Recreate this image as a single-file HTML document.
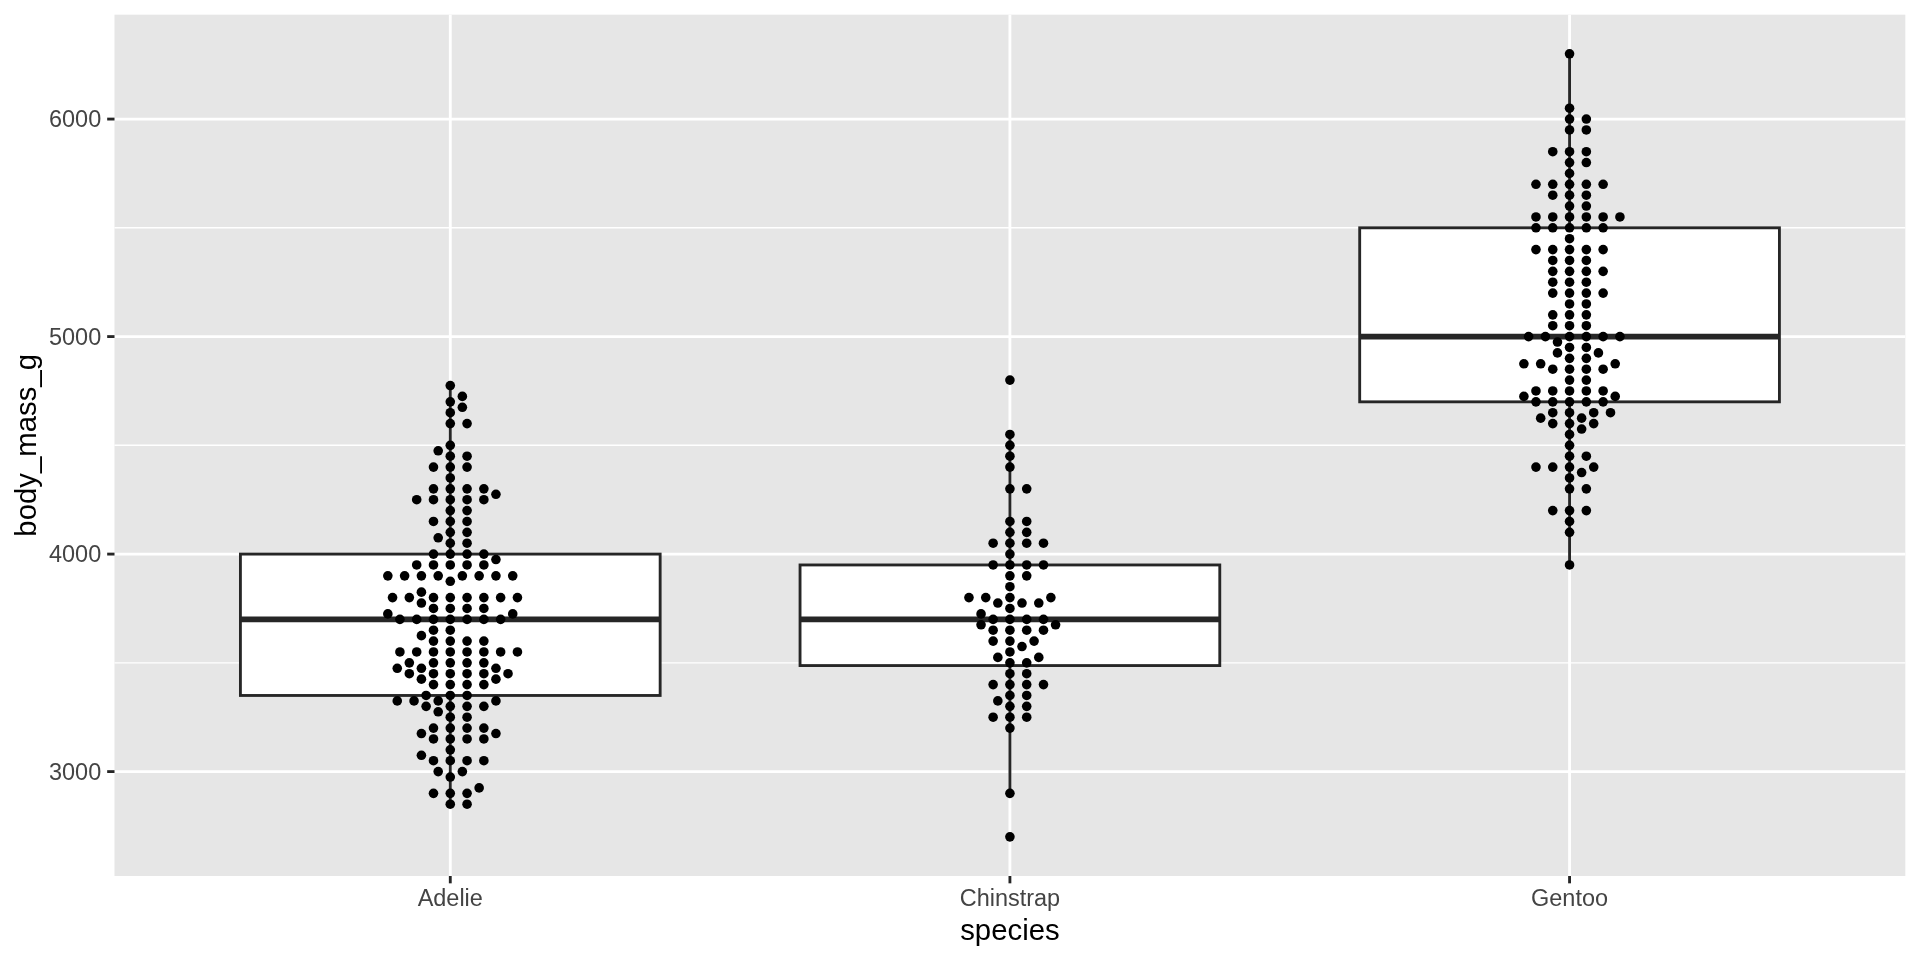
<!DOCTYPE html>
<html lang="en"><head><meta charset="utf-8"><title>body_mass_g by species</title>
<style>
html,body{margin:0;padding:0;background:#fff;overflow:hidden}
svg{display:block;will-change:transform;transform:translateZ(0)}
text{font-family:"Liberation Sans",sans-serif}
.at{font-size:23.47px;fill:#444444}
.ti{font-size:29.33px;fill:#000}
</style></head><body>
<svg width="1920" height="960" viewBox="0 0 1920 960">
<rect width="1920" height="960" fill="#fff"/>
<rect x="114.50" y="14.67" width="1790.83" height="861.33" fill="#E6E6E6"/>
<line x1="114.50" x2="1905.33" y1="662.84" y2="662.84" stroke="#fff" stroke-width="1.42"/>
<line x1="114.50" x2="1905.33" y1="445.33" y2="445.33" stroke="#fff" stroke-width="1.42"/>
<line x1="114.50" x2="1905.33" y1="227.82" y2="227.82" stroke="#fff" stroke-width="1.42"/>
<line x1="114.50" x2="1905.33" y1="771.60" y2="771.60" stroke="#fff" stroke-width="2.85"/>
<line x1="114.50" x2="1905.33" y1="554.09" y2="554.09" stroke="#fff" stroke-width="2.85"/>
<line x1="114.50" x2="1905.33" y1="336.58" y2="336.58" stroke="#fff" stroke-width="2.85"/>
<line x1="114.50" x2="1905.33" y1="119.07" y2="119.07" stroke="#fff" stroke-width="2.85"/>
<line x1="450.28" x2="450.28" y1="14.67" y2="876.00" stroke="#fff" stroke-width="2.85"/>
<line x1="1009.92" x2="1009.92" y1="14.67" y2="876.00" stroke="#fff" stroke-width="2.85"/>
<line x1="1569.55" x2="1569.55" y1="14.67" y2="876.00" stroke="#fff" stroke-width="2.85"/>
<g stroke="#262626" stroke-width="2.85" fill="none">
<line x1="450.28" x2="450.28" y1="385.52" y2="554.09"/>
<line x1="450.28" x2="450.28" y1="695.47" y2="804.22"/>
<rect x="240.42" y="554.09" width="419.73" height="141.38" fill="#fff"/>
<line x1="240.42" x2="660.14" y1="619.34" y2="619.34" stroke-width="5.69" stroke-linecap="butt"/>
</g>
<g stroke="#262626" stroke-width="2.85" fill="none">
<line x1="1009.92" x2="1009.92" y1="434.46" y2="564.96"/>
<line x1="1009.92" x2="1009.92" y1="665.56" y2="793.35"/>
<rect x="800.05" y="564.96" width="419.73" height="100.60" fill="#fff"/>
<line x1="800.05" x2="1219.78" y1="619.34" y2="619.34" stroke-width="5.69" stroke-linecap="butt"/>
</g>
<g stroke="#262626" stroke-width="2.85" fill="none">
<line x1="1569.55" x2="1569.55" y1="53.82" y2="227.82"/>
<line x1="1569.55" x2="1569.55" y1="401.83" y2="564.96"/>
<rect x="1359.69" y="227.82" width="419.73" height="174.01" fill="#fff"/>
<line x1="1359.69" x2="1779.42" y1="336.58" y2="336.58" stroke-width="5.69" stroke-linecap="butt"/>
</g>
<g>
<circle cx="450.28" cy="804.22" r="4.8"/>
<circle cx="467.07" cy="804.22" r="4.8"/>
<circle cx="450.28" cy="793.35" r="4.8"/>
<circle cx="467.07" cy="793.35" r="4.8"/>
<circle cx="433.49" cy="793.35" r="4.8"/>
<circle cx="479.15" cy="787.91" r="4.8"/>
<circle cx="450.28" cy="777.03" r="4.8"/>
<circle cx="462.36" cy="771.60" r="4.8"/>
<circle cx="438.20" cy="771.60" r="4.8"/>
<circle cx="450.28" cy="760.72" r="4.8"/>
<circle cx="467.07" cy="760.72" r="4.8"/>
<circle cx="433.49" cy="760.72" r="4.8"/>
<circle cx="483.86" cy="760.72" r="4.8"/>
<circle cx="421.41" cy="755.28" r="4.8"/>
<circle cx="450.28" cy="749.85" r="4.8"/>
<circle cx="450.28" cy="738.97" r="4.8"/>
<circle cx="467.07" cy="738.97" r="4.8"/>
<circle cx="433.49" cy="738.97" r="4.8"/>
<circle cx="483.86" cy="738.97" r="4.8"/>
<circle cx="421.41" cy="733.53" r="4.8"/>
<circle cx="495.94" cy="733.53" r="4.8"/>
<circle cx="450.28" cy="728.09" r="4.8"/>
<circle cx="433.49" cy="728.09" r="4.8"/>
<circle cx="467.07" cy="728.09" r="4.8"/>
<circle cx="483.86" cy="728.09" r="4.8"/>
<circle cx="450.28" cy="717.22" r="4.8"/>
<circle cx="467.07" cy="717.22" r="4.8"/>
<circle cx="438.20" cy="711.78" r="4.8"/>
<circle cx="450.28" cy="706.34" r="4.8"/>
<circle cx="467.07" cy="706.34" r="4.8"/>
<circle cx="426.12" cy="706.34" r="4.8"/>
<circle cx="483.86" cy="706.34" r="4.8"/>
<circle cx="438.20" cy="700.91" r="4.8"/>
<circle cx="414.04" cy="700.91" r="4.8"/>
<circle cx="495.94" cy="700.91" r="4.8"/>
<circle cx="397.25" cy="700.91" r="4.8"/>
<circle cx="450.28" cy="695.47" r="4.8"/>
<circle cx="467.07" cy="695.47" r="4.8"/>
<circle cx="426.12" cy="695.47" r="4.8"/>
<circle cx="450.28" cy="684.59" r="4.8"/>
<circle cx="467.07" cy="684.59" r="4.8"/>
<circle cx="433.49" cy="684.59" r="4.8"/>
<circle cx="483.86" cy="684.59" r="4.8"/>
<circle cx="421.41" cy="679.15" r="4.8"/>
<circle cx="495.94" cy="679.15" r="4.8"/>
<circle cx="450.28" cy="673.72" r="4.8"/>
<circle cx="433.49" cy="673.72" r="4.8"/>
<circle cx="467.07" cy="673.72" r="4.8"/>
<circle cx="483.86" cy="673.72" r="4.8"/>
<circle cx="409.33" cy="673.72" r="4.8"/>
<circle cx="508.02" cy="673.72" r="4.8"/>
<circle cx="421.41" cy="668.28" r="4.8"/>
<circle cx="495.94" cy="668.28" r="4.8"/>
<circle cx="397.25" cy="668.28" r="4.8"/>
<circle cx="450.28" cy="662.84" r="4.8"/>
<circle cx="467.07" cy="662.84" r="4.8"/>
<circle cx="433.49" cy="662.84" r="4.8"/>
<circle cx="483.86" cy="662.84" r="4.8"/>
<circle cx="409.33" cy="662.84" r="4.8"/>
<circle cx="450.28" cy="651.97" r="4.8"/>
<circle cx="467.07" cy="651.97" r="4.8"/>
<circle cx="433.49" cy="651.97" r="4.8"/>
<circle cx="483.86" cy="651.97" r="4.8"/>
<circle cx="416.70" cy="651.97" r="4.8"/>
<circle cx="500.65" cy="651.97" r="4.8"/>
<circle cx="399.91" cy="651.97" r="4.8"/>
<circle cx="517.44" cy="651.97" r="4.8"/>
<circle cx="450.28" cy="641.09" r="4.8"/>
<circle cx="467.07" cy="641.09" r="4.8"/>
<circle cx="433.49" cy="641.09" r="4.8"/>
<circle cx="483.86" cy="641.09" r="4.8"/>
<circle cx="421.41" cy="635.65" r="4.8"/>
<circle cx="450.28" cy="630.22" r="4.8"/>
<circle cx="433.49" cy="630.22" r="4.8"/>
<circle cx="450.28" cy="619.34" r="4.8"/>
<circle cx="467.07" cy="619.34" r="4.8"/>
<circle cx="433.49" cy="619.34" r="4.8"/>
<circle cx="483.86" cy="619.34" r="4.8"/>
<circle cx="416.70" cy="619.34" r="4.8"/>
<circle cx="500.65" cy="619.34" r="4.8"/>
<circle cx="399.91" cy="619.34" r="4.8"/>
<circle cx="512.73" cy="613.90" r="4.8"/>
<circle cx="387.83" cy="613.90" r="4.8"/>
<circle cx="450.28" cy="608.46" r="4.8"/>
<circle cx="467.07" cy="608.46" r="4.8"/>
<circle cx="433.49" cy="608.46" r="4.8"/>
<circle cx="483.86" cy="608.46" r="4.8"/>
<circle cx="421.41" cy="603.03" r="4.8"/>
<circle cx="450.28" cy="597.59" r="4.8"/>
<circle cx="433.49" cy="597.59" r="4.8"/>
<circle cx="467.07" cy="597.59" r="4.8"/>
<circle cx="483.86" cy="597.59" r="4.8"/>
<circle cx="409.33" cy="597.59" r="4.8"/>
<circle cx="500.65" cy="597.59" r="4.8"/>
<circle cx="392.54" cy="597.59" r="4.8"/>
<circle cx="517.44" cy="597.59" r="4.8"/>
<circle cx="421.41" cy="592.15" r="4.8"/>
<circle cx="450.28" cy="581.28" r="4.8"/>
<circle cx="462.36" cy="575.84" r="4.8"/>
<circle cx="438.20" cy="575.84" r="4.8"/>
<circle cx="479.15" cy="575.84" r="4.8"/>
<circle cx="421.41" cy="575.84" r="4.8"/>
<circle cx="495.94" cy="575.84" r="4.8"/>
<circle cx="404.62" cy="575.84" r="4.8"/>
<circle cx="512.73" cy="575.84" r="4.8"/>
<circle cx="387.83" cy="575.84" r="4.8"/>
<circle cx="450.28" cy="564.96" r="4.8"/>
<circle cx="467.07" cy="564.96" r="4.8"/>
<circle cx="433.49" cy="564.96" r="4.8"/>
<circle cx="483.86" cy="564.96" r="4.8"/>
<circle cx="416.70" cy="564.96" r="4.8"/>
<circle cx="495.94" cy="559.53" r="4.8"/>
<circle cx="450.28" cy="554.09" r="4.8"/>
<circle cx="467.07" cy="554.09" r="4.8"/>
<circle cx="433.49" cy="554.09" r="4.8"/>
<circle cx="483.86" cy="554.09" r="4.8"/>
<circle cx="450.28" cy="543.21" r="4.8"/>
<circle cx="467.07" cy="543.21" r="4.8"/>
<circle cx="438.20" cy="537.77" r="4.8"/>
<circle cx="450.28" cy="532.34" r="4.8"/>
<circle cx="467.07" cy="532.34" r="4.8"/>
<circle cx="450.28" cy="521.46" r="4.8"/>
<circle cx="467.07" cy="521.46" r="4.8"/>
<circle cx="433.49" cy="521.46" r="4.8"/>
<circle cx="450.28" cy="510.59" r="4.8"/>
<circle cx="467.07" cy="510.59" r="4.8"/>
<circle cx="450.28" cy="499.71" r="4.8"/>
<circle cx="467.07" cy="499.71" r="4.8"/>
<circle cx="433.49" cy="499.71" r="4.8"/>
<circle cx="483.86" cy="499.71" r="4.8"/>
<circle cx="416.70" cy="499.71" r="4.8"/>
<circle cx="495.94" cy="494.27" r="4.8"/>
<circle cx="450.28" cy="488.84" r="4.8"/>
<circle cx="467.07" cy="488.84" r="4.8"/>
<circle cx="433.49" cy="488.84" r="4.8"/>
<circle cx="483.86" cy="488.84" r="4.8"/>
<circle cx="450.28" cy="477.96" r="4.8"/>
<circle cx="450.28" cy="467.08" r="4.8"/>
<circle cx="467.07" cy="467.08" r="4.8"/>
<circle cx="433.49" cy="467.08" r="4.8"/>
<circle cx="450.28" cy="456.21" r="4.8"/>
<circle cx="467.07" cy="456.21" r="4.8"/>
<circle cx="438.20" cy="450.77" r="4.8"/>
<circle cx="450.28" cy="445.33" r="4.8"/>
<circle cx="450.28" cy="423.58" r="4.8"/>
<circle cx="467.07" cy="423.58" r="4.8"/>
<circle cx="450.28" cy="412.71" r="4.8"/>
<circle cx="462.36" cy="407.27" r="4.8"/>
<circle cx="450.28" cy="401.83" r="4.8"/>
<circle cx="462.36" cy="396.39" r="4.8"/>
<circle cx="450.28" cy="385.52" r="4.8"/>
</g>
<g>
<circle cx="1009.92" cy="836.85" r="4.8"/>
<circle cx="1009.92" cy="793.35" r="4.8"/>
<circle cx="1009.92" cy="728.09" r="4.8"/>
<circle cx="1009.92" cy="717.22" r="4.8"/>
<circle cx="1026.71" cy="717.22" r="4.8"/>
<circle cx="993.13" cy="717.22" r="4.8"/>
<circle cx="1009.92" cy="706.34" r="4.8"/>
<circle cx="1026.71" cy="706.34" r="4.8"/>
<circle cx="997.84" cy="700.91" r="4.8"/>
<circle cx="1009.92" cy="695.47" r="4.8"/>
<circle cx="1026.71" cy="695.47" r="4.8"/>
<circle cx="1009.92" cy="684.59" r="4.8"/>
<circle cx="1026.71" cy="684.59" r="4.8"/>
<circle cx="993.13" cy="684.59" r="4.8"/>
<circle cx="1043.49" cy="684.59" r="4.8"/>
<circle cx="1009.92" cy="673.72" r="4.8"/>
<circle cx="1026.71" cy="673.72" r="4.8"/>
<circle cx="1009.92" cy="662.84" r="4.8"/>
<circle cx="1026.71" cy="662.84" r="4.8"/>
<circle cx="997.84" cy="657.40" r="4.8"/>
<circle cx="1038.79" cy="657.40" r="4.8"/>
<circle cx="1009.92" cy="651.97" r="4.8"/>
<circle cx="1022.00" cy="646.53" r="4.8"/>
<circle cx="1009.92" cy="641.09" r="4.8"/>
<circle cx="993.13" cy="641.09" r="4.8"/>
<circle cx="1034.08" cy="641.09" r="4.8"/>
<circle cx="1009.92" cy="630.22" r="4.8"/>
<circle cx="1026.71" cy="630.22" r="4.8"/>
<circle cx="993.13" cy="630.22" r="4.8"/>
<circle cx="1043.49" cy="630.22" r="4.8"/>
<circle cx="981.05" cy="624.78" r="4.8"/>
<circle cx="1055.58" cy="624.78" r="4.8"/>
<circle cx="1009.92" cy="619.34" r="4.8"/>
<circle cx="993.13" cy="619.34" r="4.8"/>
<circle cx="1026.71" cy="619.34" r="4.8"/>
<circle cx="1043.49" cy="619.34" r="4.8"/>
<circle cx="981.05" cy="613.90" r="4.8"/>
<circle cx="1009.92" cy="608.46" r="4.8"/>
<circle cx="1022.00" cy="603.03" r="4.8"/>
<circle cx="997.84" cy="603.03" r="4.8"/>
<circle cx="1038.79" cy="603.03" r="4.8"/>
<circle cx="1009.92" cy="597.59" r="4.8"/>
<circle cx="985.76" cy="597.59" r="4.8"/>
<circle cx="1050.87" cy="597.59" r="4.8"/>
<circle cx="968.97" cy="597.59" r="4.8"/>
<circle cx="1009.92" cy="586.71" r="4.8"/>
<circle cx="1009.92" cy="575.84" r="4.8"/>
<circle cx="1026.71" cy="575.84" r="4.8"/>
<circle cx="1009.92" cy="564.96" r="4.8"/>
<circle cx="1026.71" cy="564.96" r="4.8"/>
<circle cx="993.13" cy="564.96" r="4.8"/>
<circle cx="1043.49" cy="564.96" r="4.8"/>
<circle cx="1009.92" cy="554.09" r="4.8"/>
<circle cx="1009.92" cy="543.21" r="4.8"/>
<circle cx="1026.71" cy="543.21" r="4.8"/>
<circle cx="993.13" cy="543.21" r="4.8"/>
<circle cx="1043.49" cy="543.21" r="4.8"/>
<circle cx="1009.92" cy="532.34" r="4.8"/>
<circle cx="1026.71" cy="532.34" r="4.8"/>
<circle cx="1009.92" cy="521.46" r="4.8"/>
<circle cx="1026.71" cy="521.46" r="4.8"/>
<circle cx="1009.92" cy="488.84" r="4.8"/>
<circle cx="1026.71" cy="488.84" r="4.8"/>
<circle cx="1009.92" cy="467.08" r="4.8"/>
<circle cx="1009.92" cy="456.21" r="4.8"/>
<circle cx="1009.92" cy="445.33" r="4.8"/>
<circle cx="1009.92" cy="434.46" r="4.8"/>
<circle cx="1009.92" cy="380.08" r="4.8"/>
</g>
<g>
<circle cx="1569.55" cy="564.96" r="4.8"/>
<circle cx="1569.55" cy="532.34" r="4.8"/>
<circle cx="1569.55" cy="521.46" r="4.8"/>
<circle cx="1569.55" cy="510.59" r="4.8"/>
<circle cx="1586.34" cy="510.59" r="4.8"/>
<circle cx="1552.76" cy="510.59" r="4.8"/>
<circle cx="1569.55" cy="488.84" r="4.8"/>
<circle cx="1586.34" cy="488.84" r="4.8"/>
<circle cx="1569.55" cy="477.96" r="4.8"/>
<circle cx="1581.63" cy="472.52" r="4.8"/>
<circle cx="1569.55" cy="467.08" r="4.8"/>
<circle cx="1552.76" cy="467.08" r="4.8"/>
<circle cx="1593.71" cy="467.08" r="4.8"/>
<circle cx="1535.97" cy="467.08" r="4.8"/>
<circle cx="1569.55" cy="456.21" r="4.8"/>
<circle cx="1586.34" cy="456.21" r="4.8"/>
<circle cx="1569.55" cy="445.33" r="4.8"/>
<circle cx="1569.55" cy="434.46" r="4.8"/>
<circle cx="1581.63" cy="429.02" r="4.8"/>
<circle cx="1569.55" cy="423.58" r="4.8"/>
<circle cx="1552.76" cy="423.58" r="4.8"/>
<circle cx="1593.71" cy="423.58" r="4.8"/>
<circle cx="1581.63" cy="418.14" r="4.8"/>
<circle cx="1540.68" cy="418.14" r="4.8"/>
<circle cx="1569.55" cy="412.71" r="4.8"/>
<circle cx="1552.76" cy="412.71" r="4.8"/>
<circle cx="1593.71" cy="412.71" r="4.8"/>
<circle cx="1610.50" cy="412.71" r="4.8"/>
<circle cx="1569.55" cy="401.83" r="4.8"/>
<circle cx="1586.34" cy="401.83" r="4.8"/>
<circle cx="1552.76" cy="401.83" r="4.8"/>
<circle cx="1603.13" cy="401.83" r="4.8"/>
<circle cx="1535.97" cy="401.83" r="4.8"/>
<circle cx="1615.21" cy="396.39" r="4.8"/>
<circle cx="1523.89" cy="396.39" r="4.8"/>
<circle cx="1569.55" cy="390.96" r="4.8"/>
<circle cx="1586.34" cy="390.96" r="4.8"/>
<circle cx="1552.76" cy="390.96" r="4.8"/>
<circle cx="1535.97" cy="390.96" r="4.8"/>
<circle cx="1603.13" cy="390.96" r="4.8"/>
<circle cx="1569.55" cy="380.08" r="4.8"/>
<circle cx="1586.34" cy="380.08" r="4.8"/>
<circle cx="1569.55" cy="369.21" r="4.8"/>
<circle cx="1586.34" cy="369.21" r="4.8"/>
<circle cx="1552.76" cy="369.21" r="4.8"/>
<circle cx="1603.13" cy="369.21" r="4.8"/>
<circle cx="1540.68" cy="363.77" r="4.8"/>
<circle cx="1615.21" cy="363.77" r="4.8"/>
<circle cx="1523.89" cy="363.77" r="4.8"/>
<circle cx="1569.55" cy="358.33" r="4.8"/>
<circle cx="1586.34" cy="358.33" r="4.8"/>
<circle cx="1557.47" cy="352.89" r="4.8"/>
<circle cx="1598.42" cy="352.89" r="4.8"/>
<circle cx="1569.55" cy="347.45" r="4.8"/>
<circle cx="1586.34" cy="347.45" r="4.8"/>
<circle cx="1557.47" cy="342.02" r="4.8"/>
<circle cx="1569.55" cy="336.58" r="4.8"/>
<circle cx="1586.34" cy="336.58" r="4.8"/>
<circle cx="1545.39" cy="336.58" r="4.8"/>
<circle cx="1603.13" cy="336.58" r="4.8"/>
<circle cx="1528.60" cy="336.58" r="4.8"/>
<circle cx="1619.92" cy="336.58" r="4.8"/>
<circle cx="1569.55" cy="325.70" r="4.8"/>
<circle cx="1586.34" cy="325.70" r="4.8"/>
<circle cx="1552.76" cy="325.70" r="4.8"/>
<circle cx="1569.55" cy="314.83" r="4.8"/>
<circle cx="1586.34" cy="314.83" r="4.8"/>
<circle cx="1552.76" cy="314.83" r="4.8"/>
<circle cx="1569.55" cy="303.95" r="4.8"/>
<circle cx="1586.34" cy="303.95" r="4.8"/>
<circle cx="1569.55" cy="293.08" r="4.8"/>
<circle cx="1586.34" cy="293.08" r="4.8"/>
<circle cx="1552.76" cy="293.08" r="4.8"/>
<circle cx="1603.13" cy="293.08" r="4.8"/>
<circle cx="1569.55" cy="282.20" r="4.8"/>
<circle cx="1586.34" cy="282.20" r="4.8"/>
<circle cx="1552.76" cy="282.20" r="4.8"/>
<circle cx="1569.55" cy="271.33" r="4.8"/>
<circle cx="1586.34" cy="271.33" r="4.8"/>
<circle cx="1552.76" cy="271.33" r="4.8"/>
<circle cx="1603.13" cy="271.33" r="4.8"/>
<circle cx="1569.55" cy="260.45" r="4.8"/>
<circle cx="1586.34" cy="260.45" r="4.8"/>
<circle cx="1552.76" cy="260.45" r="4.8"/>
<circle cx="1569.55" cy="249.58" r="4.8"/>
<circle cx="1586.34" cy="249.58" r="4.8"/>
<circle cx="1552.76" cy="249.58" r="4.8"/>
<circle cx="1603.13" cy="249.58" r="4.8"/>
<circle cx="1535.97" cy="249.58" r="4.8"/>
<circle cx="1569.55" cy="238.70" r="4.8"/>
<circle cx="1569.55" cy="227.82" r="4.8"/>
<circle cx="1586.34" cy="227.82" r="4.8"/>
<circle cx="1552.76" cy="227.82" r="4.8"/>
<circle cx="1603.13" cy="227.82" r="4.8"/>
<circle cx="1535.97" cy="227.82" r="4.8"/>
<circle cx="1569.55" cy="216.95" r="4.8"/>
<circle cx="1586.34" cy="216.95" r="4.8"/>
<circle cx="1552.76" cy="216.95" r="4.8"/>
<circle cx="1603.13" cy="216.95" r="4.8"/>
<circle cx="1535.97" cy="216.95" r="4.8"/>
<circle cx="1619.92" cy="216.95" r="4.8"/>
<circle cx="1569.55" cy="206.07" r="4.8"/>
<circle cx="1586.34" cy="206.07" r="4.8"/>
<circle cx="1569.55" cy="195.20" r="4.8"/>
<circle cx="1586.34" cy="195.20" r="4.8"/>
<circle cx="1552.76" cy="195.20" r="4.8"/>
<circle cx="1569.55" cy="184.32" r="4.8"/>
<circle cx="1586.34" cy="184.32" r="4.8"/>
<circle cx="1552.76" cy="184.32" r="4.8"/>
<circle cx="1603.13" cy="184.32" r="4.8"/>
<circle cx="1535.97" cy="184.32" r="4.8"/>
<circle cx="1569.55" cy="173.45" r="4.8"/>
<circle cx="1569.55" cy="162.57" r="4.8"/>
<circle cx="1586.34" cy="162.57" r="4.8"/>
<circle cx="1569.55" cy="151.70" r="4.8"/>
<circle cx="1586.34" cy="151.70" r="4.8"/>
<circle cx="1552.76" cy="151.70" r="4.8"/>
<circle cx="1569.55" cy="129.95" r="4.8"/>
<circle cx="1586.34" cy="129.95" r="4.8"/>
<circle cx="1569.55" cy="119.07" r="4.8"/>
<circle cx="1586.34" cy="119.07" r="4.8"/>
<circle cx="1569.55" cy="108.20" r="4.8"/>
<circle cx="1569.55" cy="53.82" r="4.8"/>
</g>
<line x1="107.17" x2="114.50" y1="771.60" y2="771.60" stroke="#262626" stroke-width="2.85"/>
<text class="at" x="101.20" y="779.90" text-anchor="end">3000</text>
<line x1="107.17" x2="114.50" y1="554.09" y2="554.09" stroke="#262626" stroke-width="2.85"/>
<text class="at" x="101.20" y="562.39" text-anchor="end">4000</text>
<line x1="107.17" x2="114.50" y1="336.58" y2="336.58" stroke="#262626" stroke-width="2.85"/>
<text class="at" x="101.20" y="344.88" text-anchor="end">5000</text>
<line x1="107.17" x2="114.50" y1="119.07" y2="119.07" stroke="#262626" stroke-width="2.85"/>
<text class="at" x="101.20" y="127.37" text-anchor="end">6000</text>
<line x1="450.28" x2="450.28" y1="876.00" y2="883.33" stroke="#262626" stroke-width="2.85"/>
<text class="at" x="450.28" y="905.9" text-anchor="middle">Adelie</text>
<line x1="1009.92" x2="1009.92" y1="876.00" y2="883.33" stroke="#262626" stroke-width="2.85"/>
<text class="at" x="1009.92" y="905.9" text-anchor="middle">Chinstrap</text>
<line x1="1569.55" x2="1569.55" y1="876.00" y2="883.33" stroke="#262626" stroke-width="2.85"/>
<text class="at" x="1569.55" y="905.9" text-anchor="middle">Gentoo</text>
<text class="ti" x="1009.92" y="939.9" text-anchor="middle">species</text>
<text class="ti" transform="translate(36.0 445.33) rotate(-90)" text-anchor="middle">body_mass_g</text>
</svg>
</body></html>
